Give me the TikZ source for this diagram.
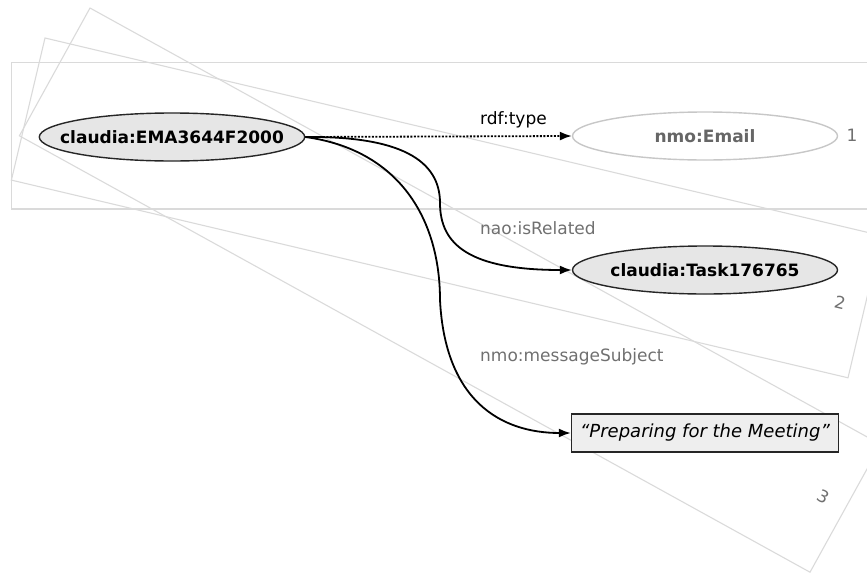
\documentclass[tikz,border=0pt]{standalone}
\usepackage{fontspec}
\setmainfont{DejaVu Sans}
\usetikzlibrary{shapes.geometric,arrows.meta}
\definecolor{nodefill}{HTML}{E6E6E6}
\definecolor{litfill}{HTML}{EEEEEE}
\definecolor{framegray}{HTML}{DADADA}
\definecolor{labelgray}{HTML}{707070}
\begin{document}
\begin{tikzpicture}[
  x=1pt, y=-1pt,
  every node/.style={font=\fontsize{17}{20}\selectfont},
  resource/.style={
    ellipse,
    draw=black!85,
    line width=1.4pt,
    fill=nodefill,
    inner xsep=-18pt,
    inner ysep=0pt,
    minimum width=265pt,
    minimum height=48pt,
    font=\fontsize{17}{20}\selectfont\bfseries
  },
  classnode/.style={resource, draw=black!22, fill=white, text=black!60},
  literal/.style={
    rectangle,
    draw=black!85,
    line width=1.4pt,
    fill=litfill,
    inner sep=0pt,
    minimum width=267pt,
    minimum height=38pt,
    font=\fontsize{18}{20}\selectfont\itshape
  },
  edgelabel/.style={anchor=west, inner sep=0pt},
  framenum/.style={text=labelgray, inner sep=0pt},
  frame/.style={draw=framegray, line width=1.1pt},
  arrow/.style={-{Latex[length=12pt,width=9pt]}, line width=1.8pt}
]
\useasboundingbox (0,0) rectangle (867,573);
\clip (0,0) rectangle (867,573);
\draw[frame] (11.7,62.7) -- (885,62.7) -- (885,209) -- (11.7,209) -- cycle;
\draw[frame] (45,38) -- (881.6,235.7) -- (848,377.8) -- (11.4,180.1) -- cycle;
\draw[frame] (90,8) -- (880.6,444.4) -- (810,572.2) -- (19.4,135.8) -- cycle;
\node (num1) [framenum] at (852,135) {1};
\node (num2) [framenum, rotate=-13.3] at (840,303) {2};
\node (num3) [framenum, rotate=-28.9] at (823,497) {3};
\node (ema) [resource] at (172,137) {claudia:EMA3644F2000};
\node (email) [classnode] at (705,136) {nmo:Email};
\node (task) [resource] at (705,270) {claudia:Task176765};
\node (subject) [literal] at (705,433) {“Preparing for the Meeting”};
\node (typelabel) [edgelabel] at (480,120) {rdf:type};
\node (relatedlabel) [edgelabel, text=labelgray] at (480,228) {nao:isRelated};
\node (subjectlabel) [edgelabel, text=labelgray] at (480,357) {nmo:messageSubject};
\draw[arrow, dash pattern=on 2pt off 1.5pt] (ema.east) -- (email.west);
\draw[arrow] (ema.east) .. controls (400,136) and (440,160) .. (440,203)
  .. controls (440,245) and (470,270) .. (task.west);
\draw[arrow] (ema.east) .. controls (400,150) and (440,220) .. (440,300)
  .. controls (445,400) and (500,433) .. (subject.west);
\end{tikzpicture}
\end{document}
